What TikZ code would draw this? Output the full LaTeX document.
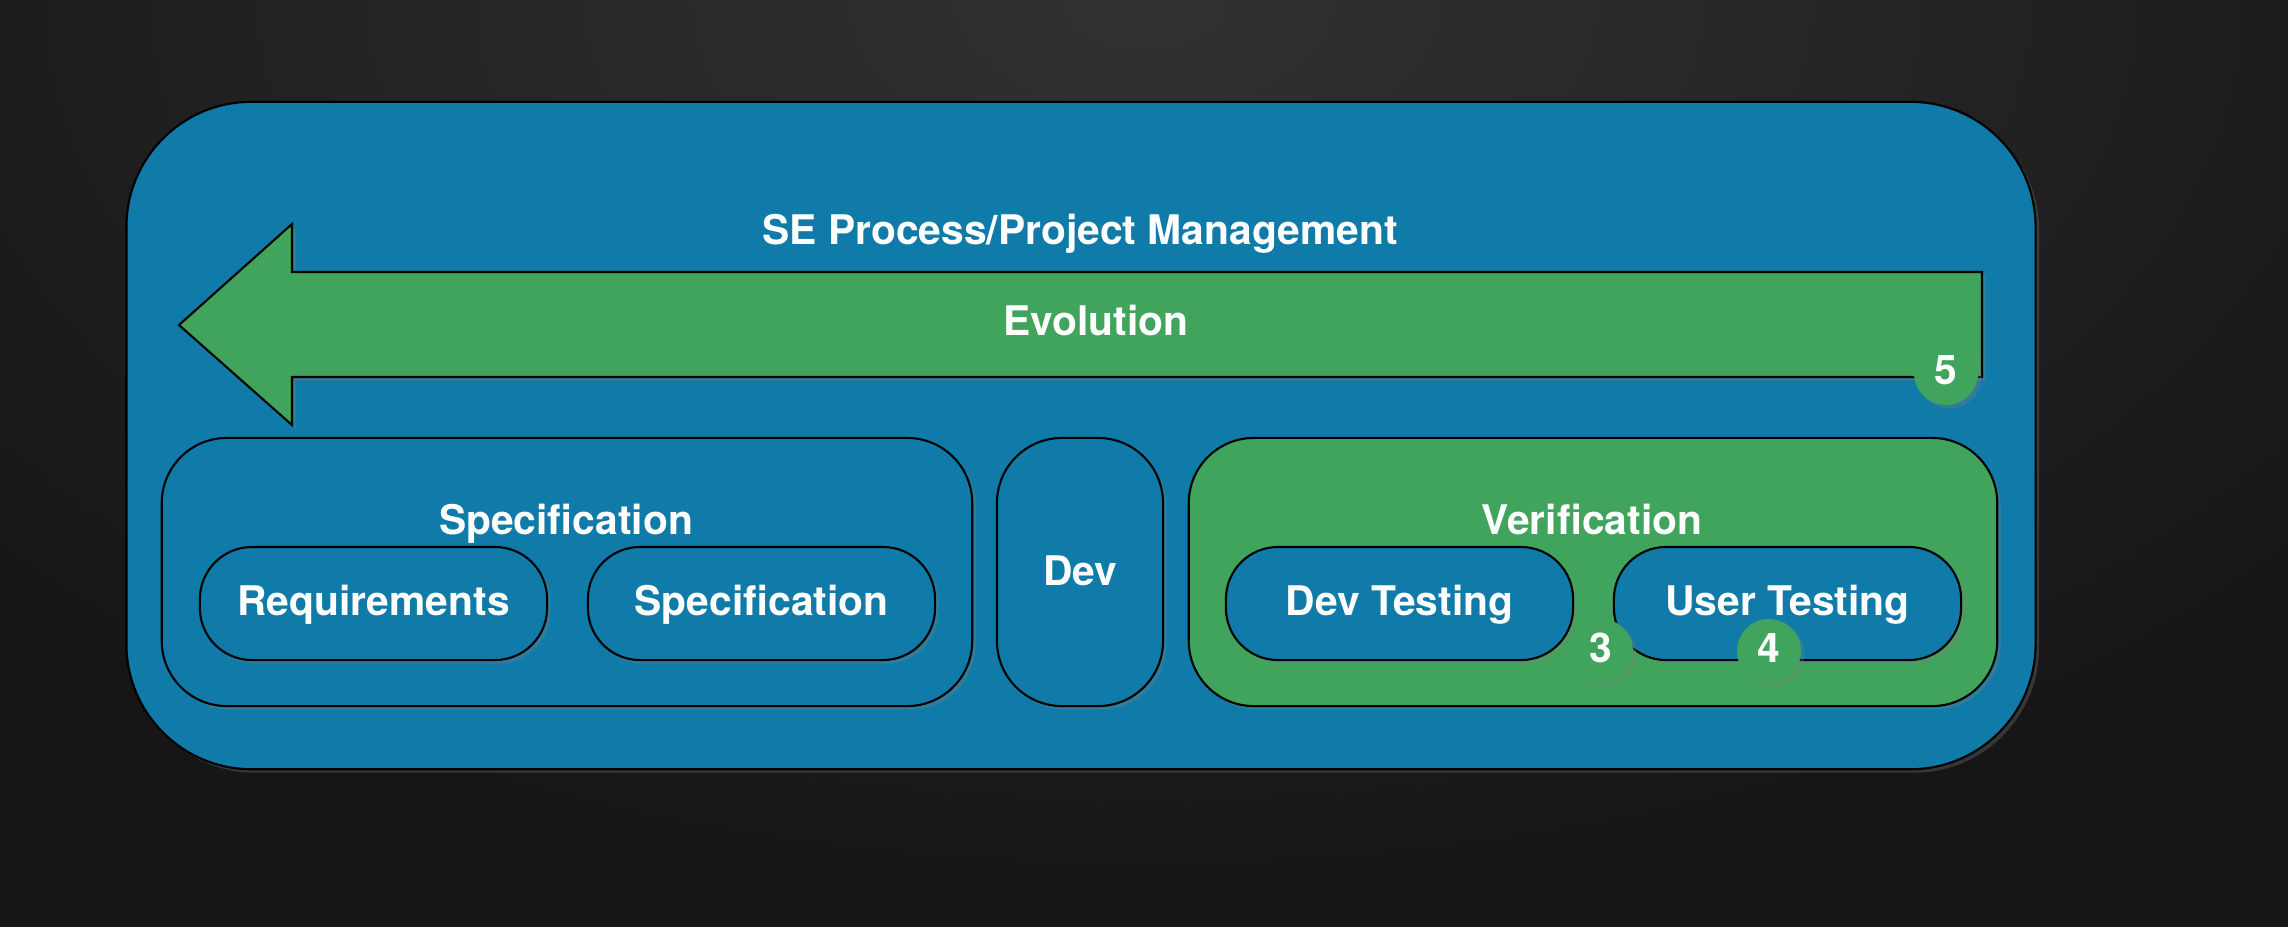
\documentclass[tikz,border=0pt]{standalone}
\usepackage{fontspec}
\setmainfont{TeX Gyre Heros}
\usetikzlibrary{positioning,
        shadows}

\definecolor{seblue}{RGB}{16,123,168}
\definecolor{segreen}{RGB}{64,164,92}
\definecolor{bgtop}{RGB}{50,50,50}
\definecolor{bgbot}{RGB}{22,22,22}

\tikzset{
  softshadow/.style={drop shadow={opacity=0.3, shadow xshift=1pt, shadow yshift=-1pt}},
  setext/.style={text=white, font=\fontsize{11.6}{14}\selectfont\bfseries, text height=6.6pt, text depth=0pt},
  frame/.style={draw=black, line width=0.6pt, rounded corners=1.25cm, fill=seblue, softshadow},
  group/.style={draw=black, line width=0.6pt, rounded corners=0.65cm, inner sep=0pt, softshadow},
  pill/.style={draw=black, line width=0.6pt, rounded corners=0.52cm, fill=seblue, inner sep=0pt,
    minimum width=3.47cm, minimum height=1.13cm, softshadow, setext},
  title/.style={inner sep=0pt, setext},
  badge/.style={circle, fill=segreen, minimum size=0.64cm, inner sep=0pt, setext, softshadow}
}

\begin{document}
\begin{tikzpicture}[x=0.01cm,y=-0.01cm]
            \useasboundingbox (0,0) rectangle (2288,926);
            \fill [bgbot] (-5,-5) rectangle (2293,931);
            \begin{scope}
                \clip (0,0) rectangle (2288,926);
                \shade [inner color=bgtop, outer color=bgbot] (1144,0) ellipse [x radius=1500, y radius=880];
            \end{scope}

            % outer frame
            \node [frame, minimum width=19.08cm, minimum height=6.67cm] (Frame) at (1081,435.5) {};

            % evolution arrow
            \draw [fill=segreen, line width=0.6pt, softshadow] (1982,272) -- (292,272) -- (292,224)
                -- (179,325) -- (292,425) -- (292,377) -- (1982,377) -- cycle;
            \node [title] (PM) at (1080,233) {SE Process/Project Management};
            \node [title] (Evo) at (1096,324) {Evolution};

            % groups
            \node [group, fill=seblue, minimum width=8.10cm, minimum height=2.68cm] (SpecGrp) at (567,572) {};
            \node [group, fill=seblue, minimum width=1.66cm, minimum height=2.68cm] (DevGrp) at (1080,572) {};
            \node [group, fill=segreen, minimum width=8.08cm, minimum height=2.68cm] (VerGrp) at (1593,572) {};
            \node [title] (Dev) at (1080,574) {Dev};

            \node [title] (SpecTitle) at (566,523) {Specification};
            \node [title] (VerTitle) at (1592,523) {Verification};

            \node [pill] (Req) at (373.5,603.5) {Requirements};
            \node [pill] (Spec) at (761.5,603.5) {Specification};
            \node [pill] (DevTest) at (1399.5,603.5) {Dev Testing};
            \node [pill] (UserTest) at (1787.5,603.5) {User Testing};

            % step markers
            \node [badge] (b3) at (1601,651) {3};
            \node [badge] (b4) at (1769,651) {4};
            \node [badge] (b5) at (1946,373) {5};
        \end{tikzpicture}
\end{document}
